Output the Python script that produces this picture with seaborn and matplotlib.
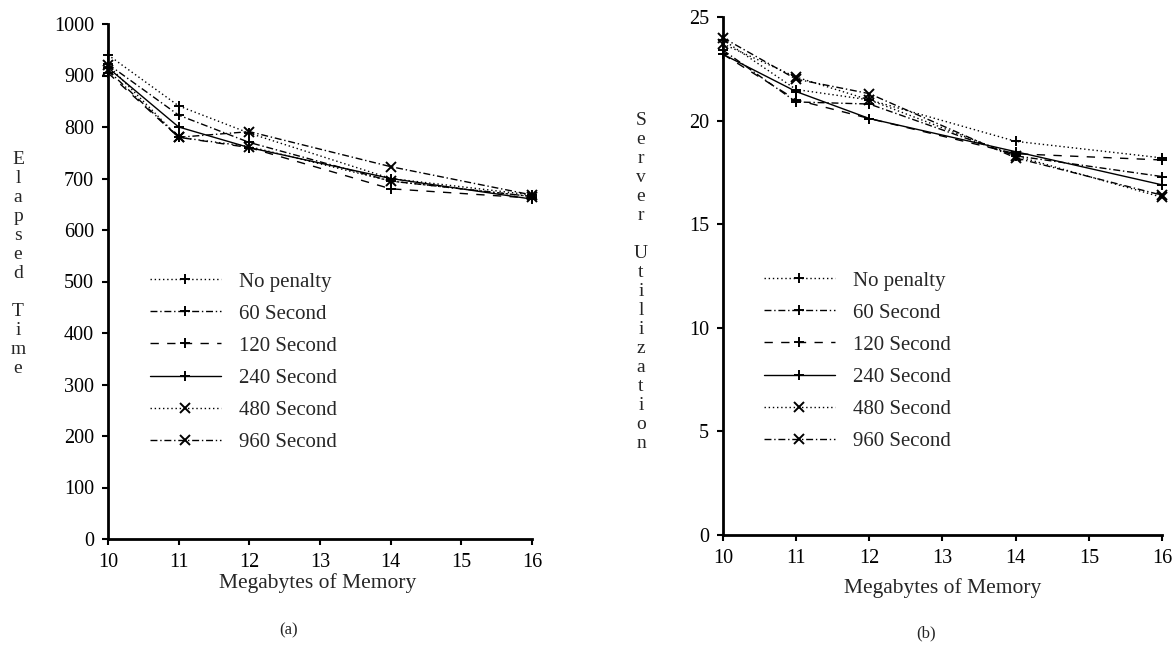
import matplotlib
matplotlib.use("Agg")
import matplotlib.pyplot as plt
import numpy as np
import pandas as pd
import seaborn as sns

# ---------------- data ----------------
memory = [10, 11, 12, 14, 16]
series_names = ["No penalty", "60 Second", "120 Second", "240 Second", "480 Second", "960 Second"]

# (a) Elapsed Time
elapsed_no_penalty = [940, 841, 788, 700, 668]
elapsed_60 = [922, 823, 770, 695, 665]
elapsed_120 = [905, 780, 760, 680, 662]
elapsed_240 = [915, 800, 760, 700, 660]
elapsed_480 = [920, 780, 762, 695, 665]
elapsed_960 = [910, 780, 791, 723, 668]

# (b) Server Utilization
util_no_penalty = [23.9, 21.5, 21.0, 19.0, 18.2]
util_60 = [23.4, 20.9, 20.8, 18.3, 17.3]
util_120 = [23.2, 21.0, 20.1, 18.4, 18.1]
util_240 = [23.2, 21.4, 20.1, 18.5, 16.9]
util_480 = [23.7, 22.1, 21.0, 18.3, 16.3]
util_960 = [24.0, 22.0, 21.3, 18.2, 16.4]

x_ticks = [10, 11, 12, 13, 14, 15, 16]
elapsed_ticks = [0, 100, 200, 300, 400, 500, 600, 700, 800, 900, 1000]
util_ticks = [0, 5, 10, 15, 20, 25]


def long_frame(cols):
    rows = []
    for name, vals in zip(series_names, cols):
        for m, v in zip(memory, vals):
            rows.append({"Memory": m, "Value": v, "Series": name})
    return pd.DataFrame(rows)


df_a = long_frame([elapsed_no_penalty, elapsed_60, elapsed_120, elapsed_240, elapsed_480, elapsed_960])
df_b = long_frame([util_no_penalty, util_60, util_120, util_240, util_480, util_960])

# ---------------- style ----------------
sns.set_style("ticks")
plt.rcParams["font.family"] = ["Liberation Serif", "DejaVu Serif"]
plt.rcParams["font.size"] = 14

dashes = {
    "No penalty": (1, 2),
    "60 Second": (5, 2, 1, 2),
    "120 Second": (6, 6),
    "240 Second": "",
    "480 Second": (1, 2),
    "960 Second": (5, 2, 1, 2),
}
markers = {
    "No penalty": "+",
    "60 Second": "+",
    "120 Second": "+",
    "240 Second": "+",
    "480 Second": "x",
    "960 Second": "x",
}

W, H = 1176, 646
fig = plt.figure(figsize=(W / 100, H / 100), dpi=100)
fig.patch.set_facecolor("white")


def px_axes(x0, y0, x1, y1):
    return fig.add_axes([x0 / W, 1 - y1 / H, (x1 - x0) / W, (y1 - y0) / H])


ax_a = px_axes(108, 24, 532, 539)
ax_b = px_axes(723, 17, 1162, 535)

MS, MEW = 6.5, 1.4


def draw(ax, df, ylim, yticks, legend_anchor):
    sns.lineplot(
        data=df, x="Memory", y="Value", hue="Series", style="Series",
        hue_order=series_names, style_order=series_names,
        palette=["black"] * len(series_names),
        dashes=dashes, markers=markers, markersize=MS, markeredgewidth=MEW,
        markeredgecolor="black", markerfacecolor="black",
        linewidth=1.0, ax=ax, clip_on=False,
    )
    ax.set_xlim(10, 16)
    ax.set_ylim(*ylim)
    ax.set_xticks(x_ticks)
    ax.set_yticks(yticks)
    ax.set_xlabel("")
    ax.set_ylabel("")
    for s in ["top", "right"]:
        ax.spines[s].set_visible(False)
    for s in ["left", "bottom"]:
        ax.spines[s].set_linewidth(2.0)
        ax.spines[s].set_color("black")
    ax.tick_params(axis="both", direction="out", length=4, width=1.5,
                   labelsize=14.5, colors="black", pad=6)
    handles, labels = ax.get_legend_handles_labels()
    for h in handles:
        try:
            h.set_markeredgecolor("black")
            h.set_markerfacecolor("black")
            h.set_markeredgewidth(MEW)
            h.set_markersize(MS)
        except AttributeError:
            pass
    ax.legend(handles, labels, loc="upper left",
              bbox_to_anchor=(legend_anchor[0] / W, 1 - legend_anchor[1] / H),
              bbox_transform=fig.transFigure, frameon=False, fontsize=15,
              handlelength=3.4, handletextpad=0.85, labelspacing=0.6,
              borderpad=0, borderaxespad=0, numpoints=1)


draw(ax_a, df_a, (0, 1000), elapsed_ticks, (150, 272))
draw(ax_b, df_b, (0, 25), util_ticks, (764, 271))

# stacked vertical axis labels
fig.text(18 / W, 1 - 264 / H, "E\nl\na\np\ns\ne\nd\n\nT\ni\nm\ne",
         ha="center", va="center", fontsize=14, linespacing=1.15)
fig.text(641 / W, 1 - 282 / H, "S\ne\nr\nv\ne\nr\n\nU\nt\ni\nl\ni\nz\na\nt\ni\no\nn",
         ha="center", va="center", fontsize=14, linespacing=1.15)

# x labels and panel captions
fig.text(318 / W, 1 - 583 / H, "Megabytes of Memory", ha="center", va="center", fontsize=15.5)
fig.text(943 / W, 1 - 588 / H, "Megabytes of Memory", ha="center", va="center", fontsize=15.5)
fig.text(289 / W, 1 - 630 / H, "(a)", ha="center", va="center", fontsize=12)
fig.text(926 / W, 1 - 633 / H, "(b)", ha="center", va="center", fontsize=12)

fig.savefig("out.png", dpi=100, facecolor="white")
